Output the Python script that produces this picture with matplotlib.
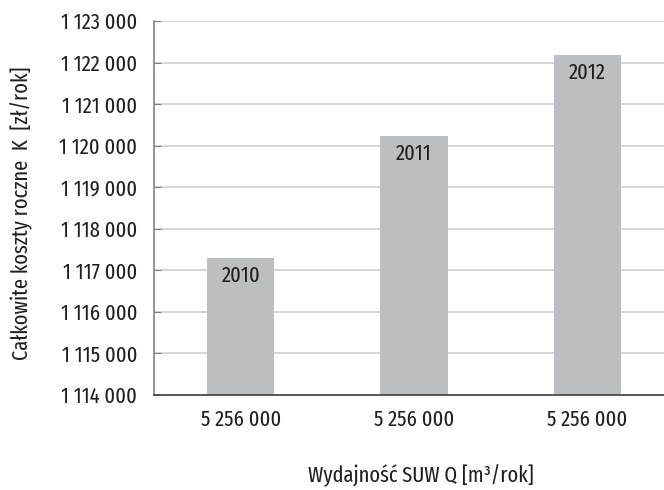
import matplotlib
matplotlib.use("Agg")
import matplotlib.pyplot as plt
from matplotlib import font_manager

categories = ["5 256 000", "5 256 000", "5 256 000"]
years = ["2010", "2011", "2012"]
values = [1117305, 1120232, 1122180]
yticks = [1114000, 1115000, 1116000, 1117000, 1118000, 1119000, 1120000, 1121000, 1122000, 1123000]

# pick a condensed font if one is installed
cands = []
for f in font_manager.fontManager.ttflist:
    nm = (f.name + " " + f.fname).lower()
    cond = ("narrow" in nm or "condensed" in nm or str(f.stretch) in ("condensed", "semi-condensed", "extra-condensed"))
    if cond and f.style == "normal" and f.weight in (400, "normal", "regular"):
        if "ultra" in nm:
            rank = 3
        elif "extra" in nm or str(f.stretch) == "extra-condensed":
            rank = 0
        elif "semi" in nm:
            rank = 2
        else:
            rank = 1
        if "mono" in nm or ("serif" in nm and "sans" not in nm):
            rank += 5
        cands.append((rank, f.fname))
cands.sort()
if cands:
    fp = font_manager.FontProperties(fname=cands[0][1])
    scale = 1.0
else:
    fp = font_manager.FontProperties(family="DejaVu Sans")
    scale = 0.8

fs = 16 * scale
fig = plt.figure(figsize=(6.64, 4.90), dpi=100)
ax = fig.add_axes([154/664, 1-395/490, 520/664, (395-21)/490])

x = list(range(len(values)))
ax.bar(x, values, width=0.387, color="#bdbec1", zorder=2)
ax.set_xlim(-0.5, 2.5)
ax.set_ylim(1114000, 1123000)
ax.set_yticks(yticks)
ax.set_yticklabels([f"{v:,}".replace(",", " ") for v in yticks], fontproperties=fp, fontsize=fs, color="#231f20")
ax.set_xticks(x)
ax.set_xticklabels(categories, fontproperties=fp, fontsize=fs, color="#231f20")
ax.yaxis.grid(True, color="#d0d0d0", linewidth=1.2, zorder=0)
ax.set_axisbelow(True)
ax.tick_params(axis="y", direction="in", length=5, color="#808080", pad=12)
ax.tick_params(axis="x", length=0, pad=10)
for s in ["top", "right"]:
    ax.spines[s].set_visible(False)
ax.spines["left"].set_color("#808080")
ax.spines["left"].set_linewidth(1.2)
ax.spines["bottom"].set_color("#404040")
ax.spines["bottom"].set_linewidth(1.2)

for xi, v, yr in zip(x, values, years):
    ax.annotate(yr, (xi, v), xytext=(0, -13), textcoords="offset points",
                ha="center", va="center", fontproperties=fp, fontsize=fs, color="#231f20")

fig.text(22/664, 1-213/490, "Całkowite koszty roczne  K  [zł/rok]", rotation=90,
         ha="center", va="center", fontproperties=fp, fontsize=fs, color="#231f20")
fig.text(421/664, 1-476/490, "Wydajność SUW Q [m³/rok]", ha="center", va="center",
         fontproperties=fp, fontsize=fs, color="#231f20")

fig.savefig("out.png", dpi=100)
